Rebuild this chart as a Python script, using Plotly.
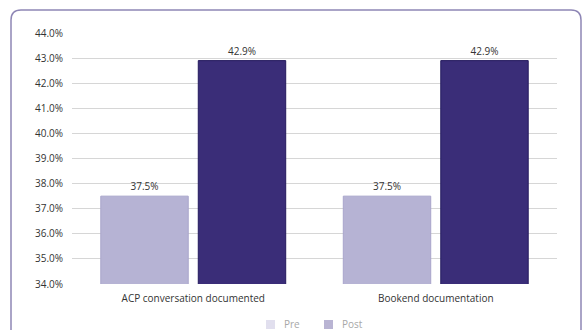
import plotly.graph_objects as go

categories = ["ACP conversation documented", "Bookend documentation"]
series_names = ["Pre", "Post"]
pre_values = [37.5, 37.5]
post_values = [42.9, 42.9]
y_ticks = [34, 35, 36, 37, 38, 39, 40, 41, 42, 43, 44]

W, H = 587, 330
ML, MR, MT, MB = 72, 30, 33, 46
pw, ph = W - ML - MR, H - MT - MB

FONT = "Open Sans"
pre_color = "#b6b3d4"
post_color = "#3a2d78"
legend_colors = ["#e1dfee", "#b9b4d3"]

fig = go.Figure()
fig.add_trace(go.Bar(
    x=categories, y=pre_values, name=series_names[0],
    marker=dict(color=pre_color, line=dict(color="#a9a5cb", width=1)),
    text=[f"{v:.1f}%" for v in pre_values], textposition="outside",
    textfont=dict(size=10, color="#333333", family=FONT),
    cliponaxis=False, showlegend=False,
))
fig.add_trace(go.Bar(
    x=categories, y=post_values, name=series_names[1],
    marker=dict(color=post_color, line=dict(color="#241a5e", width=1)),
    text=[f"{v:.1f}%" for v in post_values], textposition="outside",
    textfont=dict(size=10, color="#333333", family=FONT),
    cliponaxis=False, showlegend=False,
))

def px(x):
    return (x - ML) / pw

def py(y):
    return (H - MB - y) / ph

# rounded border
x0, x1, y0, y1, r = 11, 581, 10, 345, 10
path = (
    f"M {px(x0)},{py(y1)} L {px(x0)},{py(y0 + r)} "
    f"Q {px(x0)},{py(y0)} {px(x0 + r)},{py(y0)} "
    f"L {px(x1 - r)},{py(y0)} "
    f"Q {px(x1)},{py(y0)} {px(x1)},{py(y0 + r)} "
    f"L {px(x1)},{py(y1)}"
)
fig.add_shape(type="path", path=path, xref="paper", yref="paper",
              line=dict(color="#8e86b5", width=1.5), layer="above")

# manual legend near the bottom edge
legend_x = [266, 324]
for name, col, lx in zip(series_names, legend_colors, legend_x):
    fig.add_shape(type="rect", xref="paper", yref="paper",
                  x0=px(lx), x1=px(lx + 9), y0=py(329), y1=py(320),
                  fillcolor=col, line=dict(width=0))
    fig.add_annotation(x=px(lx + 16), y=py(323.5), xref="paper", yref="paper",
                       text=name, showarrow=False, xanchor="left", yanchor="middle",
                       font=dict(size=10, color="#a8a8a8", family=FONT))

fig.update_layout(
    width=W, height=H,
    margin=dict(l=ML, r=MR, t=MT, b=MB),
    paper_bgcolor="white", plot_bgcolor="white",
    barmode="group", bargap=0.196, bargroupgap=0.103,
    font=dict(family=FONT, size=10, color="#333333"),
    showlegend=False,
    xaxis=dict(showgrid=False, showline=False, ticks="outside", ticklen=5,
               tickcolor="white", tickfont=dict(size=10, color="#333333")),
    yaxis=dict(range=[34, 44.0], tickvals=y_ticks,
               ticktext=[f"{v:.1f}%" for v in y_ticks],
               showgrid=True, gridcolor="#d6d6d6", gridwidth=1,
               zeroline=False, showline=False, ticks="outside", ticklen=6,
               tickcolor="white", tickfont=dict(size=10, color="#333333")),
)

fig.write_html("out.html")
